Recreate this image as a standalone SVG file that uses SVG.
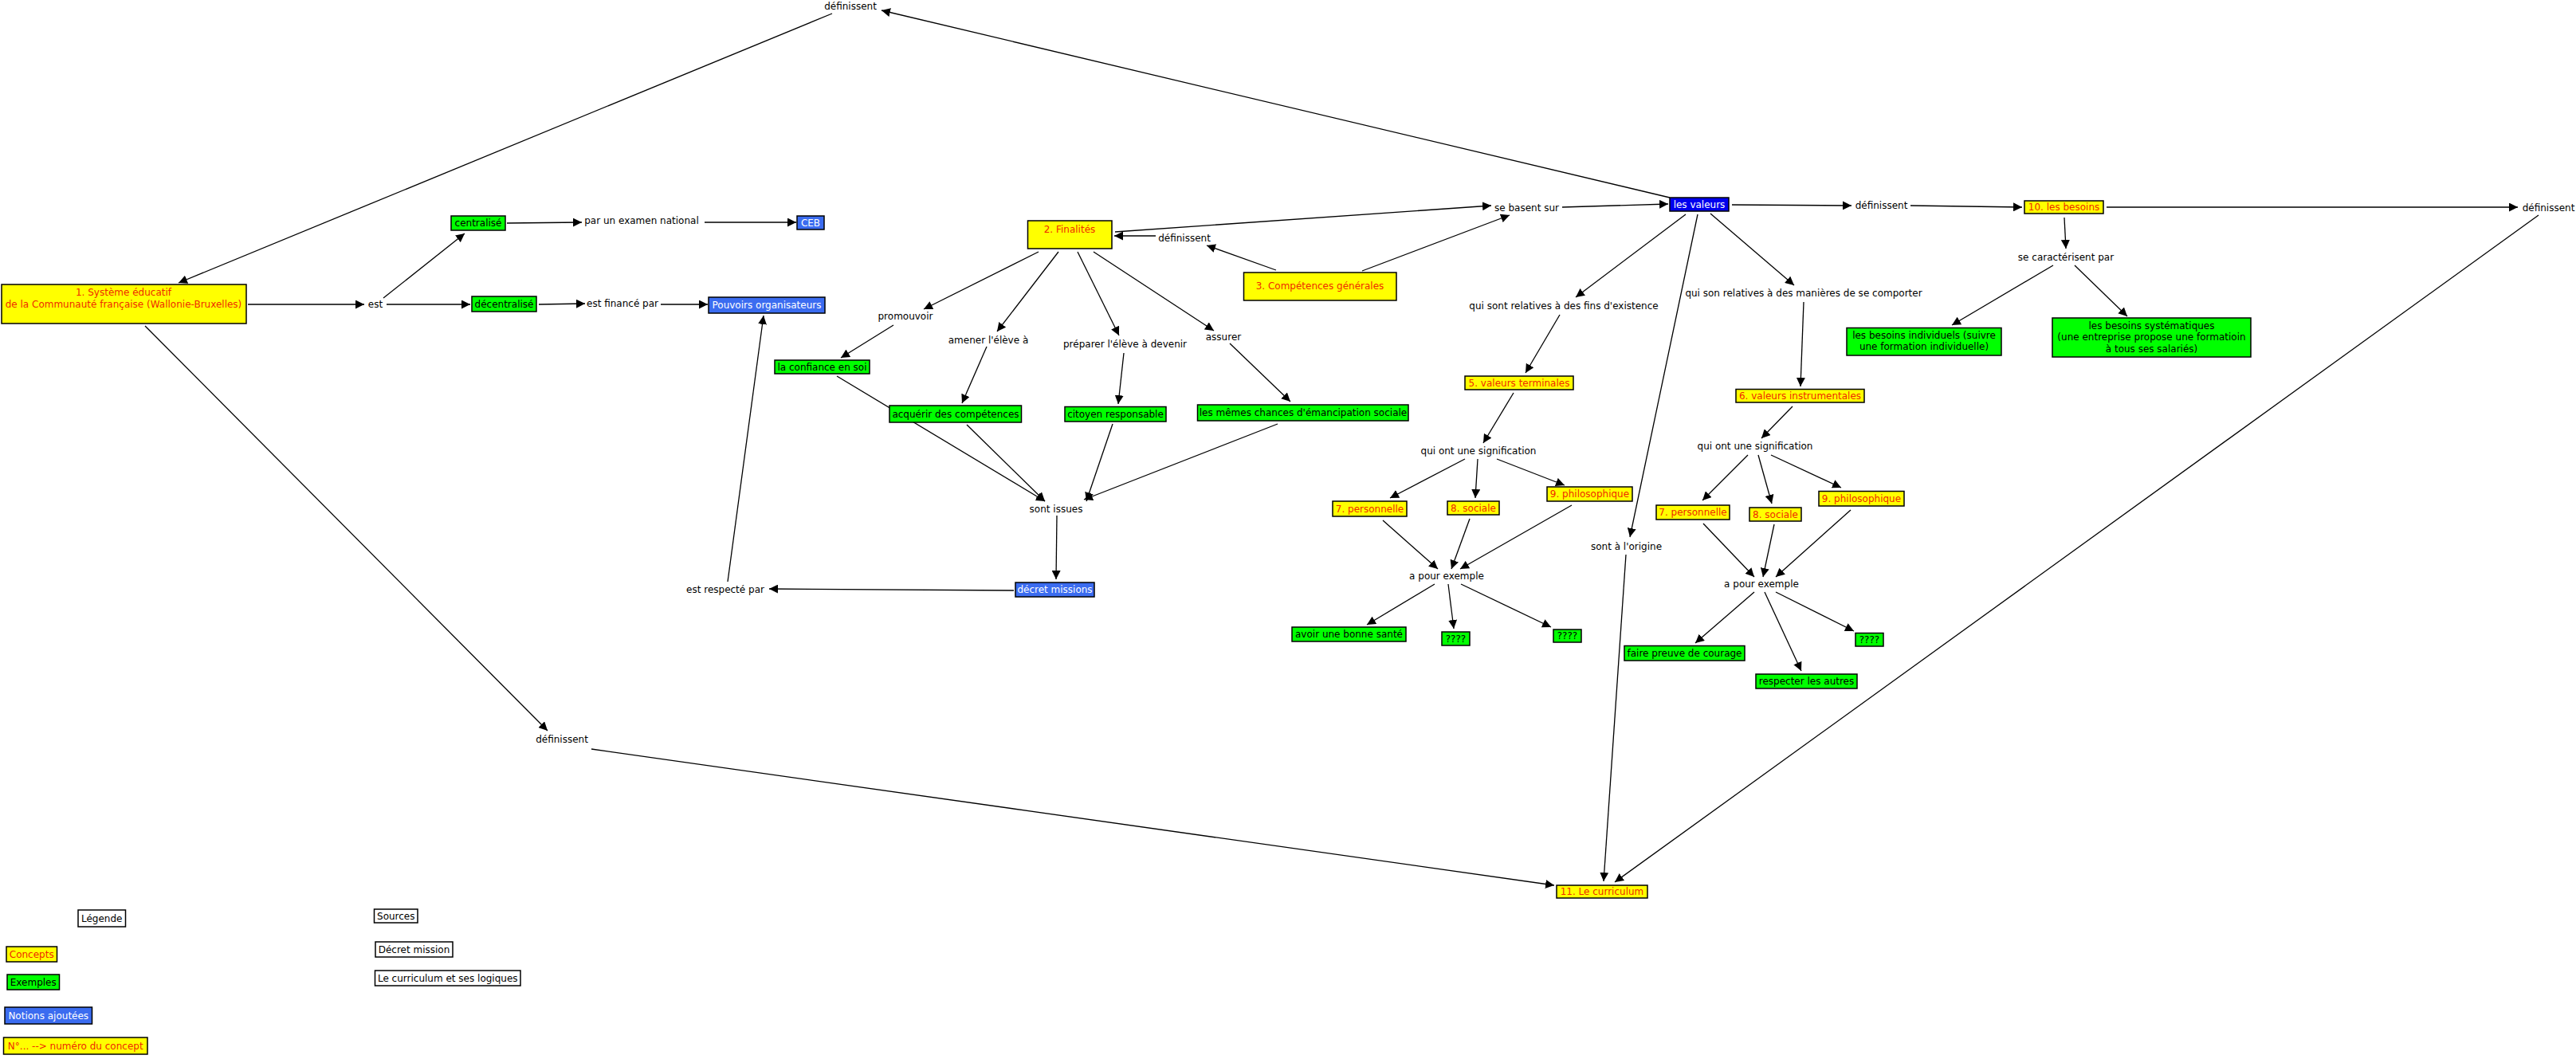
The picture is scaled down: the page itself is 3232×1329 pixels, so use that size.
<svg xmlns="http://www.w3.org/2000/svg" width="3232" height="1329" viewBox="0 0 3232 1329">
<defs>
<marker id="ah" markerUnits="userSpaceOnUse" markerWidth="11" markerHeight="11" refX="11" refY="5.5" orient="auto">
<path d="M0,0 L11,5.5 L0,11 z" fill="#000"/>
</marker>
<style>
text{font-family:"DejaVu Sans","Verdana",sans-serif;font-size:12px;text-anchor:middle}
rect{stroke:#000;stroke-width:1.5}
.c{fill:#ffff00}
.e{fill:#00ff00}
.n{fill:#3b6cf0}
.v{fill:#0000ee}
.w{fill:#fff}
.tc{fill:#f02a00}
.te{fill:#000}
.tn{fill:#fff}
.l{fill:#000}
#conn line{stroke:#000;stroke-width:1.3;marker-end:url(#ah)}
</style>
</defs>
<rect x="0" y="0" width="3232" height="1329" fill="#fff" style="stroke:none"/>

<g id="conn">
<line x1="311" y1="382" x2="457" y2="382"/>
<line x1="481" y1="374" x2="583" y2="293"/>
<line x1="485" y1="382" x2="590" y2="382"/>
<line x1="636" y1="280" x2="730" y2="279"/>
<line x1="884" y1="279" x2="999" y2="279"/>
<line x1="676" y1="382" x2="734" y2="381"/>
<line x1="829" y1="382" x2="888" y2="382"/>
<line x1="913" y1="730" x2="958" y2="396"/>
<line x1="1272" y1="741" x2="965" y2="739"/>
<line x1="2095" y1="248" x2="1106" y2="13"/>
<line x1="1044" y1="17" x2="224" y2="355"/>
<line x1="182" y1="409" x2="687" y2="917"/>
<line x1="742" y1="940" x2="1950" y2="1111"/>
<line x1="1450" y1="296" x2="1398" y2="296"/>
<line x1="1601" y1="339" x2="1514" y2="308"/>
<line x1="1399" y1="291" x2="1871" y2="258"/>
<line x1="1709" y1="340" x2="1894" y2="270"/>
<line x1="1960" y1="260" x2="2093" y2="256"/>
<line x1="2173" y1="257" x2="2323" y2="258"/>
<line x1="2397" y1="258" x2="2537" y2="260"/>
<line x1="2643" y1="260" x2="3159" y2="260"/>
<line x1="3185" y1="270" x2="2026" y2="1107"/>
<line x1="2590" y1="273" x2="2592" y2="312"/>
<line x1="2603" y1="333" x2="2669" y2="397"/>
<line x1="2576" y1="333" x2="2449" y2="408"/>
<line x1="1303" y1="316" x2="1159" y2="388"/>
<line x1="1121" y1="408" x2="1055" y2="449"/>
<line x1="1328" y1="316" x2="1251" y2="416"/>
<line x1="1238" y1="435" x2="1207" y2="506"/>
<line x1="1352" y1="316" x2="1404" y2="421"/>
<line x1="1410" y1="443" x2="1403" y2="507"/>
<line x1="1372" y1="316" x2="1523" y2="415"/>
<line x1="1543" y1="431" x2="1619" y2="504"/>
<line x1="1050" y1="472" x2="1311" y2="629"/>
<line x1="1213" y1="533" x2="1311" y2="629"/>
<line x1="1396" y1="532" x2="1363" y2="629"/>
<line x1="1603" y1="532" x2="1360" y2="627"/>
<line x1="1326" y1="647" x2="1325" y2="727"/>
<line x1="2115" y1="269" x2="1977" y2="373"/>
<line x1="1957" y1="395" x2="1914" y2="468"/>
<line x1="1899" y1="493" x2="1861" y2="556"/>
<line x1="1838" y1="576" x2="1744" y2="625"/>
<line x1="1854" y1="576" x2="1851" y2="625"/>
<line x1="1878" y1="576" x2="1963" y2="609"/>
<line x1="1735" y1="653" x2="1804" y2="714"/>
<line x1="1844" y1="651" x2="1821" y2="714"/>
<line x1="1972" y1="634" x2="1832" y2="714"/>
<line x1="1800" y1="733" x2="1715" y2="784"/>
<line x1="1817" y1="733" x2="1824" y2="789"/>
<line x1="1833" y1="733" x2="1946" y2="787"/>
<line x1="2146" y1="268" x2="2251" y2="358"/>
<line x1="2263" y1="379" x2="2259" y2="485"/>
<line x1="2249" y1="510" x2="2210" y2="550"/>
<line x1="2193" y1="571" x2="2136" y2="628"/>
<line x1="2206" y1="571" x2="2223" y2="632"/>
<line x1="2222" y1="571" x2="2310" y2="612"/>
<line x1="2137" y1="657" x2="2201" y2="724"/>
<line x1="2226" y1="658" x2="2212" y2="724"/>
<line x1="2322" y1="640" x2="2228" y2="724"/>
<line x1="2201" y1="743" x2="2127" y2="807"/>
<line x1="2214" y1="743" x2="2260" y2="842"/>
<line x1="2228" y1="743" x2="2326" y2="792"/>
<line x1="2130" y1="269" x2="2045" y2="674"/>
<line x1="2040" y1="696" x2="2012" y2="1106"/>
</g>

<g id="n1"><rect class="c" x="2" y="357" width="307" height="49"/><text class="tc" x="155" y="371">1. Système éducatif</text><text class="tc" x="155" y="386">de la Communauté française (Wallonie-Bruxelles)</text></g>
<g id="centralise"><rect class="e" x="566" y="271" width="68" height="18"/><text class="te" x="600" y="284">centralisé</text></g>
<g id="decentralise"><rect class="e" x="592" y="372" width="81" height="19"/><text class="te" x="632.5" y="385.5">décentralisé</text></g>
<g id="ceb"><rect class="n" x="1000" y="271" width="34" height="17"/><text class="tn" x="1017" y="283.5">CEB</text></g>
<g id="pouvoirs"><rect class="n" x="889" y="373" width="146" height="20"/><text class="tn" x="962" y="387">Pouvoirs organisateurs</text></g>
<g id="finalites"><rect class="c" x="1289.5" y="277" width="105.5" height="35"/><text class="tc" x="1342" y="292">2. Finalités</text></g>
<g id="competences"><rect class="c" x="1560.5" y="342" width="191.5" height="35"/><text class="tc" x="1656" y="363">3. Compétences générales</text></g>
<g id="confiance"><rect class="e" x="972" y="452" width="119" height="17"/><text class="te" x="1031.5" y="464.5">la confiance en soi</text></g>
<g id="acquerir"><rect class="e" x="1116" y="509" width="165.5" height="21"/><text class="te" x="1199" y="523.5">acquérir des compétences</text></g>
<g id="citoyen"><rect class="e" x="1336" y="510.5" width="127" height="18.5"/><text class="te" x="1399.5" y="524">citoyen responsable</text></g>
<g id="chances"><rect class="e" x="1502.5" y="508" width="264.5" height="20"/><text class="te" x="1635" y="522">les mêmes chances d'émancipation sociale</text></g>
<g id="decret"><rect class="n" x="1274" y="731" width="99" height="18"/><text class="tn" x="1323.5" y="744">décret missions</text></g>
<g id="valeurs"><rect class="v" x="2095" y="248" width="74" height="17"/><text class="tn" x="2132" y="260.5">les valeurs</text></g>
<g id="besoins"><rect class="c" x="2540" y="252" width="99" height="16"/><text class="tc" x="2589.5" y="264">10. les besoins</text></g>
<g id="systematiques"><rect class="e" x="2575" y="399" width="249" height="49"/><text class="te" x="2699.5" y="413">les besoins systématiques</text><text class="te" x="2699.5" y="427">(une entreprise propose une formatioin</text><text class="te" x="2699.5" y="442">à tous ses salariés)</text></g>
<g id="individuels"><rect class="e" x="2317" y="411.5" width="194" height="34.5"/><text class="te" x="2414" y="425">les besoins individuels (suivre</text><text class="te" x="2414" y="439">une formation individuelle)</text></g>
<g id="terminales"><rect class="c" x="1838" y="472" width="136" height="17"/><text class="tc" x="1906" y="484.5">5. valeurs terminales</text></g>
<g id="instrumentales"><rect class="c" x="2178" y="488.5" width="161" height="16.5"/><text class="tc" x="2258.5" y="501">6. valeurs instrumentales</text></g>
<g id="perso1"><rect class="c" x="1672" y="629" width="93" height="19"/><text class="tc" x="1718.5" y="642.5">7. personnelle</text></g>
<g id="sociale1"><rect class="c" x="1816" y="629" width="65" height="17"/><text class="tc" x="1848.5" y="641.5">8. sociale</text></g>
<g id="philo1"><rect class="c" x="1941" y="611" width="107" height="18"/><text class="tc" x="1994.5" y="624">9. philosophique</text></g>
<g id="perso2"><rect class="c" x="2078" y="634" width="92" height="18"/><text class="tc" x="2124" y="647">7. personnelle</text></g>
<g id="sociale2"><rect class="c" x="2195" y="637" width="65" height="17"/><text class="tc" x="2227.5" y="649.5">8. sociale</text></g>
<g id="philo2"><rect class="c" x="2282" y="616.5" width="107" height="18.5"/><text class="tc" x="2335.5" y="630">9. philosophique</text></g>
<g id="sante"><rect class="e" x="1621" y="787" width="143" height="18"/><text class="te" x="1692.5" y="800">avoir une bonne santé</text></g>
<g id="q1"><rect class="e" x="1809" y="793" width="35" height="17"/><text class="te" x="1826.5" y="805.5">????</text></g>
<g id="q2"><rect class="e" x="1949" y="790" width="35" height="16"/><text class="te" x="1966.5" y="802">????</text></g>
<g id="courage"><rect class="e" x="2038" y="810.5" width="151" height="18.5"/><text class="te" x="2113.5" y="824">faire preuve de courage</text></g>
<g id="respecter"><rect class="e" x="2203" y="846" width="127" height="18"/><text class="te" x="2266.5" y="859">respecter les autres</text></g>
<g id="q3"><rect class="e" x="2328" y="794.5" width="35" height="16.5"/><text class="te" x="2345.5" y="807">????</text></g>
<g id="curriculum"><rect class="c" x="1953" y="1111" width="114" height="16"/><text class="tc" x="2010" y="1123">11. Le curriculum</text></g>

<g id="lbl-est"><text class="l" x="471" y="386">est</text></g>
<g id="lbl-examen"><text class="l" x="805" y="281">par un examen national</text></g>
<g id="lbl-finance"><text class="l" x="781" y="385">est financé par</text></g>
<g id="lbl-respecte"><text class="l" x="910" y="744">est respecté par</text></g>
<g id="lbl-def-top"><text class="l" x="1067" y="11.5">définissent</text></g>
<g id="lbl-def-fin"><text class="l" x="1486" y="303">définissent</text></g>
<g id="lbl-basent"><text class="l" x="1915.5" y="265">se basent sur</text></g>
<g id="lbl-def-val"><text class="l" x="2360.5" y="262">définissent</text></g>
<g id="lbl-def-right"><text class="l" x="3197.5" y="265">définissent</text></g>
<g id="lbl-caract"><text class="l" x="2592" y="327">se caractérisent par</text></g>
<g id="lbl-fins"><text class="l" x="1962" y="388">qui sont relatives à des fins d'existence</text></g>
<g id="lbl-manieres"><text class="l" x="2263" y="372">qui son relatives à des manières de se comporter</text></g>
<g id="lbl-sig1"><text class="l" x="1855" y="569.5">qui ont une signification</text></g>
<g id="lbl-sig2"><text class="l" x="2202" y="563.5">qui ont une signification</text></g>
<g id="lbl-ex1"><text class="l" x="1815" y="726.5">a pour exemple</text></g>
<g id="lbl-ex2"><text class="l" x="2210" y="736.5">a pour exemple</text></g>
<g id="lbl-origine"><text class="l" x="2040.5" y="689.5">sont à l'origine</text></g>
<g id="lbl-promouvoir"><text class="l" x="1136" y="400.5">promouvoir</text></g>
<g id="lbl-amener"><text class="l" x="1240" y="430.5">amener l'élève à</text></g>
<g id="lbl-preparer"><text class="l" x="1411.5" y="435.5">préparer l'élève à devenir</text></g>
<g id="lbl-assurer"><text class="l" x="1535" y="426.5">assurer</text></g>
<g id="lbl-issues"><text class="l" x="1325" y="643">sont issues</text></g>
<g id="lbl-def-bot"><text class="l" x="705" y="931.5">définissent</text></g>

<g id="legende"><rect class="w" x="98" y="1142" width="59.5" height="21"/><text class="te" x="127.75" y="1156.5">Légende</text></g>
<g id="leg-concepts"><rect class="c" x="8" y="1188" width="63.5" height="19"/><text class="tc" x="39.75" y="1201.5">Concepts</text></g>
<g id="leg-exemples"><rect class="e" x="9" y="1223" width="65.5" height="19"/><text class="te" x="41.75" y="1236.5">Exemples</text></g>
<g id="leg-notions"><rect class="n" x="6" y="1264" width="109.5" height="21"/><text class="tn" x="60.75" y="1278.5">Notions ajoutées</text></g>
<g id="leg-numero"><rect class="c" x="4.5" y="1302" width="180.5" height="21"/><text class="tc" x="94.75" y="1316.5">N°... --&gt; numéro du concept</text></g>
<g id="sources"><rect class="w" x="469.5" y="1141" width="54.5" height="17"/><text class="te" x="496.75" y="1153.5">Sources</text></g>
<g id="src-decret"><rect class="w" x="471" y="1182" width="97" height="19"/><text class="te" x="519.5" y="1195.5">Décret mission</text></g>
<g id="src-curriculum"><rect class="w" x="470.5" y="1218" width="182.5" height="19"/><text class="te" x="561.75" y="1231.5">Le curriculum et ses logiques</text></g>
</svg>
